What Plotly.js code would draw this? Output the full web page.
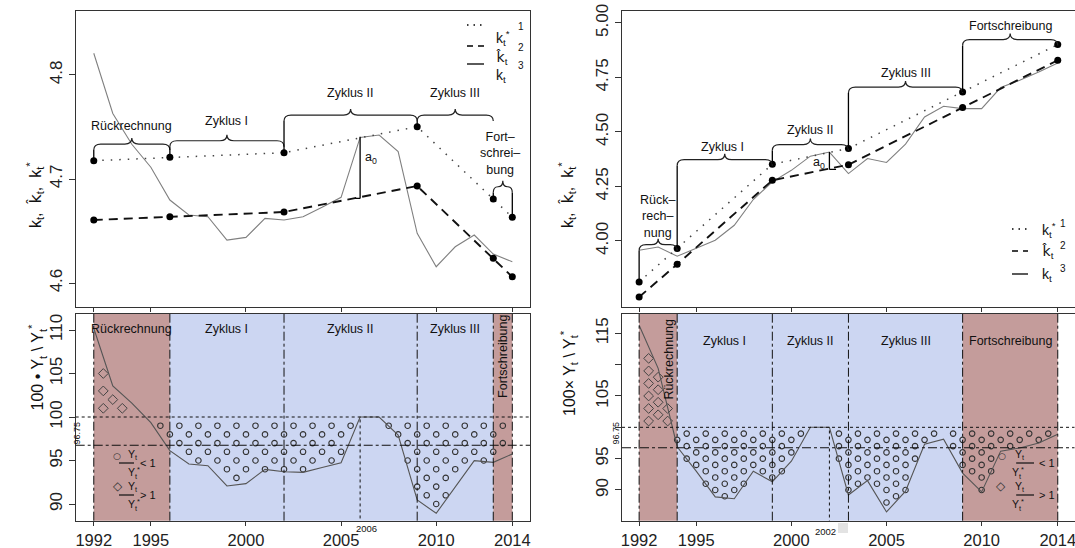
<!DOCTYPE html>
<html><head><meta charset="utf-8">
<script src="https://cdn.plot.ly/plotly-3.0.1.min.js"></script>
<style>html,body{margin:0;padding:0;background:#fff}#chart{width:1075px;height:548px}</style>
</head><body><div id="chart"></div>
<script>
// ---------------- DATA ----------------
const years = [1992,1993,1994,1995,1996,1997,1998,1999,2000,2001,2002,2003,2004,2005,2006,2007,2008,2009,2010,2011,2012,2013,2014];
const xTickVals = [1992,1995,2000,2005,2010,2014];

// left panel (k_t, trend k*_t, k^_t, ratio)
const leftK = [4.8209,4.763,4.7334,4.7113,4.6798,4.6654,4.6638,4.6413,4.6439,4.6622,4.6606,4.6638,4.6728,4.6824,4.740,4.7423,4.7263,4.6478,4.6157,4.6349,4.6462,4.6279,4.6205];
const leftKnotYears = [1992,1996,2002,2009,2013,2014];
const leftKstar = [4.7176,4.7209,4.7253,4.7503,4.6808,4.6633];
const leftKhat  = [4.6606,4.6638,4.6683,4.6933,4.6238,4.6060];
const leftRatio = [110.2,103.56,101.6,99.35,96.13,94.6,94.4,92.07,92.34,93.98,93.7,93.64,94.2,94.75,100,100,97.93,90.46,88.93,92.0,94.98,94.79,95.75];
const leftCycleYears = [1992,1996,2002,2009,2013,2014];
const leftCycleNames = ['Rückrechnung','Zyklus I','Zyklus II','Zyklus III','Fortschreibung'];
const leftCycleKind  = ['edge','core','core','core','edge'];
const leftMarkYear = 2006;

// right panel
const rightK = [3.957,3.972,3.930,3.965,4.003,4.072,4.190,4.271,4.324,4.389,4.408,4.309,4.378,4.360,4.444,4.569,4.618,4.607,4.607,4.704,4.737,4.775,4.817];
const rightKnotYears = [1992,1994,1999,2003,2009,2014];
const rightKstar = [3.812,3.965,4.352,4.424,4.683,4.901];
const rightKhat  = [3.743,3.893,4.278,4.350,4.612,4.829];
const rightRatio = [116.3,109.4,96.9,93.0,88.9,88.6,93.0,91.3,94.6,100,100,89.2,91.5,86.5,89.8,97.3,98.1,92.7,89.7,96.2,96.7,97.5,98.9];
const rightCycleYears = [1992,1994,1999,2003,2009,2014];
const rightCycleNames = ['Rückrechnung','Zyklus I','Zyklus II','Zyklus III','Fortschreibung'];
const rightCycleKind  = ['edge','core','core','core','edge'];
const rightMarkYear = 2002;

const refLevel = 96.75;

// ---------------- HELPERS ----------------
const W=1075,H=548;
const PX=x=>x/W, PY=y=>1-y/H;
const FONT='Liberation Sans, Arial, sans-serif';
const BROWN='#c49c9b', BLUE='#ccd6f2', FRAME='#333';
const KHAT='<span style="font-family:DejaVu Sans">k̂</span>';

function interp(xs,ys,x){for(let i=0;i<xs.length-1;i++){if(x>=xs[i]&&x<=xs[i+1]){const t=(x-xs[i])/(xs[i+1]-xs[i]);return ys[i]+t*(ys[i+1]-ys[i]);}}return NaN;}
function pattern(xs,ys){
  const c={x:[],y:[]},d={x:[],y:[]};
  const x0=xs[0],x1=xs[xs.length-1];
  const lo=Math.floor(Math.min(...ys)),hi=Math.ceil(Math.max(...ys));
  for(let r=lo;r<=hi;r++){ if(r===100)continue;
    const off=(r%2!==0)?0.5:0;
    for(let x=x0+off;x<x1-1e-9;x+=1){ if(x<=x0+1e-9)continue;
      const v=interp(xs,ys,x);
      if(r<100&&r>v){c.x.push(x);c.y.push(r);}
      else if(r>100&&r<v){d.x.push(x);d.y.push(r);} } }
  return {c,d};
}
function brace(xa,ya,x0,x1,yl,sx,sy){
  const wpx=(x1-x0)/sx;
  const dwp=Math.min(7,wpx/4);
  const dx=dwp*sx, dy=6*sy, cy=6*sy, xm=(x0+x1)/2;
  return {type:'path',xref:xa,yref:ya,line:{color:'#222',width:1.2},
    path:`M ${x0},${yl-dy} Q ${x0},${yl} ${x0+dx},${yl} L ${xm-dx},${yl} Q ${xm},${yl} ${xm},${yl+cy} Q ${xm},${yl} ${xm+dx},${yl} L ${x1-dx},${yl} Q ${x1},${yl} ${x1},${yl-dy}`};
}
function vline(xa,ya,x,y0,y1,w){return {type:'line',xref:xa,yref:ya,x0:x,x1:x,y0:y0,y1:y1,line:{color:'#000',width:w||1.3}};}

const XR_L=[1991.05,2014.93], XR_R=[1991.1,2014.88];
const YR_TL=[4.577,4.8615], YR_BL=[88.08,111.84], YR_TR=[3.697,5.055], YR_BR=[85.1,118.08];
const SX_L=(XR_L[1]-XR_L[0])/(530-75.7), SX_R=(XR_R[1]-XR_R[0])/(1074.5-622);
const SY_TL=(YR_TL[1]-YR_TL[0])/296, SY_TR=(YR_TR[1]-YR_TR[0])/296;

function xax(dom,range,labels,anchor){return {domain:dom,range:range,anchor:anchor,tickmode:'array',tickvals:xTickVals,ticktext:xTickVals.map(String),showticklabels:labels,ticklabeloverflow:'allow',ticks:'outside',ticklen:4,tickcolor:FRAME,showline:true,mirror:true,linecolor:FRAME,linewidth:1,zeroline:false,showgrid:false,tickfont:{family:FONT,size:16.5,color:'#222'}};}
function yax(dom,range,vals,texts,anchor){return {domain:dom,range:range,anchor:anchor,tickmode:'array',tickvals:vals,ticktext:texts,tickangle:-90,ticks:'outside',ticklen:6,tickcolor:FRAME,showline:true,mirror:true,linecolor:FRAME,linewidth:1,zeroline:false,showgrid:false,tickfont:{family:FONT,size:17,color:'#222'}};}

const DL=[PX(75.7),PX(530)], DR=[PX(622),PX(1074.5)], DT=[PY(307),PY(11)], DB=[PY(520.7),PY(314)];

const traces=[];
const shapes=[];
const ann=[];
function A(o){ann.push(Object.assign({showarrow:false,font:{family:FONT,size:12.5,color:'#111'}},o));}

// ---------- top panels ----------
function topPanel(xa,ya,k,knots,kstar,khat){
  traces.push({x:years,y:k,xaxis:xa,yaxis:ya,mode:'lines',line:{color:'#808080',width:1.1},hoverinfo:'skip'});
  traces.push({x:knots,y:kstar,xaxis:xa,yaxis:ya,mode:'lines',line:{color:'#444',width:1.5,dash:'1.5px,7px'},hoverinfo:'skip'});
  traces.push({x:knots,y:kstar,xaxis:xa,yaxis:ya,mode:'markers',marker:{color:'#000',size:7},hoverinfo:'skip'});
  traces.push({x:knots,y:khat,xaxis:xa,yaxis:ya,mode:'lines+markers',line:{color:'#111',width:1.9,dash:'9px,6px'},marker:{color:'#000',size:7},hoverinfo:'skip'});
}
topPanel('x','y',leftK,leftKnotYears,leftKstar,leftKhat);
topPanel('x3','y3',rightK,rightKnotYears,rightKstar,rightKhat);

// left top braces & labels
const dyL=6*SY_TL, dyR=6*SY_TR;
[[1992,1996,4.7336],[1996,2002,4.7368],[2002,2009,4.7615],[2009,2013,4.7615],[2013,2014,4.6926]].forEach(b=>shapes.push(brace('x','y',b[0],b[1],b[2],SX_L,SY_TL)));
shapes.push(vline('x','y',1992,leftKstar[0],4.7336-dyL));
shapes.push(vline('x','y',1996,leftKstar[1],4.7368-dyL));
shapes.push(vline('x','y',2002,leftKstar[2],4.7615-dyL));
shapes.push(vline('x','y',2009,leftKstar[3],4.7615-dyL));
shapes.push(vline('x','y',2013,leftKstar[4],4.6926-dyL));
shapes.push(vline('x','y',2014,leftKstar[5],4.6926-dyL));
// a0 left
shapes.push(vline('x','y',2006,4.7406,4.6814));
shapes.push({type:'line',xref:'x',yref:'y',x0:2005.75,x1:2006,y0:4.6814,y1:4.6814,line:{color:'#000',width:1.3}});
A({xref:'x',yref:'y',x:1994,y:4.751,text:'Rückrechnung'});
A({xref:'x',yref:'y',x:1999,y:4.756,text:'Zyklus I'});
A({xref:'x',yref:'y',x:2005.5,y:4.7824,text:'Zyklus II'});
A({xref:'x',yref:'y',x:2011,y:4.7824,text:'Zyklus III'});
A({xref:'x',yref:'y',x:2013.35,y:4.7247,text:'Fort–<br>schrei–<br>bung'});
A({xref:'x',yref:'y',x:2006.15,y:4.7199,xanchor:'left',text:'a<sub>0</sub>'});

// right top braces & labels
[[1992,1994,3.983],[1994,1999,4.373],[1999,2003,4.442],[2003,2009,4.706],[2009,2014,4.924]].forEach(b=>shapes.push(brace('x3','y3',b[0],b[1],b[2],SX_R,SY_TR)));
shapes.push(vline('x3','y3',1992,rightKstar[0],3.983-dyR));
shapes.push(vline('x3','y3',1994,rightKstar[1],4.373-dyR));
shapes.push(vline('x3','y3',1999,rightKstar[2],4.442-dyR));
shapes.push(vline('x3','y3',2003,rightKstar[3],4.706-dyR));
shapes.push(vline('x3','y3',2009,rightKstar[4],4.924-dyR));
shapes.push(vline('x3','y3',2002,4.408,4.328));
shapes.push({type:'line',xref:'x3',yref:'y3',x0:2002,x1:2002.35,y0:4.328,y1:4.328,line:{color:'#000',width:1.3}});
A({xref:'x3',yref:'y3',x:1992.95,y:4.113,text:'Rück–<br>rech–<br>nung'});
A({xref:'x3',yref:'y3',x:1996.4,y:4.431,text:'Zyklus I'});
A({xref:'x3',yref:'y3',x:2001,y:4.508,text:'Zyklus II'});
A({xref:'x3',yref:'y3',x:2006,y:4.771,text:'Zyklus III'});
A({xref:'x3',yref:'y3',x:2011.5,y:4.985,text:'Fortschreibung'});
A({xref:'x3',yref:'y3',x:2001.45,y:4.358,text:'a<sub>0</sub>'});

// legends for top panels
function topLegend(x0,x1,tx,nx,ys){
  const dashes=['1.5px,5px','6px,5px','solid'];
  const labels=['k<sub>t</sub><sup>*</sup>',KHAT+'<sub>t</sub>','k<sub>t</sub>'];
  ys.forEach((y,i)=>{
    shapes.push({type:'line',xref:'paper',yref:'paper',x0:PX(x0),x1:PX(x1),y0:PY(y),y1:PY(y),line:{color:'#000',width:i==2?1.3:1.6,dash:dashes[i]}});
    A({xref:'paper',yref:'paper',x:PX(tx),y:PY(y+1),xanchor:'left',text:labels[i],font:{family:FONT,size:14,color:'#111'}});
    A({xref:'paper',yref:'paper',x:PX(nx),y:PY(y-6),xanchor:'left',text:String(i+1),font:{family:FONT,size:10,color:'#111'}});
  });
}
topLegend(467,484,494,516,[25,46,64]);
topLegend(1012,1028,1040,1058,[229,251,274]);

// ---------- bottom panels ----------
function bottomPanel(xa,ya,ratio,cyc,kinds,names,markYear,rotIdx,rotX,labelY,rotY){
  const dom=ya+' domain';
  for(let i=0;i<kinds.length;i++){
    shapes.push({type:'rect',xref:xa,yref:dom,x0:cyc[i],x1:cyc[i+1],y0:0,y1:1,fillcolor:kinds[i]=='edge'?BROWN:BLUE,line:{width:0},layer:'below'});
  }
  cyc.forEach(c=>shapes.push({type:'line',xref:xa,yref:dom,x0:c,x1:c,y0:0,y1:1,line:{color:'#111',width:1,dash:'dashdot'}}));
  shapes.push({type:'line',xref:xa,yref:ya,x0:markYear,x1:markYear,y0:-1000,y1:100,line:{color:'#111',width:1,dash:'dot'}});
  shapes.push({type:'line',xref:xa+' domain',yref:ya,x0:0,x1:1,y0:100,y1:100,line:{color:'#111',width:1,dash:'dot'}});
  shapes.push({type:'line',xref:xa+' domain',yref:ya,x0:0,x1:1,y0:refLevel,y1:refLevel,line:{color:'#111',width:1.1,dash:'dashdot'}});
  const p=pattern(years,ratio);
  traces.push({x:p.c.x,y:p.c.y,xaxis:xa,yaxis:ya,mode:'markers',marker:{symbol:'circle-open',size:5.5,color:'#333',line:{width:1.1}},hoverinfo:'skip'});
  traces.push({x:p.d.x,y:p.d.y,xaxis:xa,yaxis:ya,mode:'markers',marker:{symbol:'diamond-open',size:7.5,color:'#444',line:{width:1}},hoverinfo:'skip'});
  traces.push({x:years,y:ratio,xaxis:xa,yaxis:ya,mode:'lines',line:{color:'#555',width:1.1},hoverinfo:'skip'});
  names.forEach((n,i)=>{
    const xm=(cyc[i]+cyc[i+1])/2;
    if(i===rotIdx) A({xref:xa,yref:ya,x:rotX,y:rotY,text:n,textangle:-90,font:{family:FONT,size:12.5,color:'#111'}});
    else A({xref:xa,yref:ya,x:xm,y:labelY,text:n,font:{family:FONT,size:12.5,color:'#111'}});
  });
}
bottomPanel('x2','y2',leftRatio,leftCycleYears,leftCycleKind,leftCycleNames,leftMarkYear,4,2013.5,110.1,107.0);
bottomPanel('x4','y4',rightRatio,rightCycleYears,rightCycleKind,rightCycleNames,rightMarkYear,0,1993.55,113.85,110.9);

// mark-year small labels
A({xref:'x2',yref:'paper',x:leftMarkYear+0.35,y:PY(528),yanchor:'middle',text:'2006',font:{family:FONT,size:9.5,color:'#111'}});
A({xref:'x4',yref:'paper',x:rightMarkYear-0.2,y:PY(531),yanchor:'middle',text:'2002',font:{family:FONT,size:9.5,color:'#111'}});
shapes.push({type:'rect',xref:'paper',yref:'paper',x0:PX(838),x1:PX(848),y0:PY(533),y1:PY(523),fillcolor:'#e3e3e3',line:{width:0}});

// 96.75 labels
A({xref:'paper',yref:'paper',x:PX(69),y:PY(447),text:'96.75',textangle:-90,font:{family:FONT,size:9,color:'#111'}});
A({xref:'paper',yref:'paper',x:PX(615),y:PY(447),text:'96.75',textangle:-90,font:{family:FONT,size:9,color:'#111'}});

// bottom legends (fractions)
function fracLegend(sx,sy,fx0,fx1,tx,sym,rel){
  A({xref:'paper',yref:'paper',x:PX(sx),y:PY(sy),text:sym,font:{family:'DejaVu Sans',size:sym=='○'?9:12,color:'#333'}});
  A({xref:'paper',yref:'paper',x:PX((fx0+fx1)/2),y:PY(sy-0.5),yanchor:'bottom',borderpad:0,text:'Y<sub>t</sub>',font:{family:FONT,size:10.5,color:'#111'}});
  A({xref:'paper',yref:'paper',x:PX((fx0+fx1)/2),y:PY(sy+0.5),yanchor:'top',borderpad:0,text:'Y<sub>t</sub><sup>*</sup>',font:{family:FONT,size:10.5,color:'#111'}});
  shapes.push({type:'line',xref:'paper',yref:'paper',x0:PX(fx0),x1:PX(fx1),y0:PY(sy),y1:PY(sy),line:{color:'#111',width:1.2}});
  A({xref:'paper',yref:'paper',x:PX(tx),y:PY(sy),xanchor:'left',yanchor:'middle',borderpad:0,text:rel,font:{family:FONT,size:11,color:'#111'}});
}
fracLegend(111,463,119,134,139,'○','&lt; 1');
fracLegend(111,495,119,134,139,'◇','&gt; 1');
fracLegend(1008,463,1016,1034,1038,'○','&lt; 1');
fracLegend(1008,495,1016,1034,1038,'◇','&gt; 1');

// y-axis titles
A({xref:'paper',yref:'paper',x:PX(22),y:PY(160),text:'k<sub>t</sub>,  '+KHAT+'<sub>t</sub>,  k<sub>t</sub><sup>*</sup>',textangle:-90,font:{family:FONT,size:16,color:'#111'}});
A({xref:'paper',yref:'paper',x:PX(567),y:PY(160),text:'k<sub>t</sub>,  '+KHAT+'<sub>t</sub>,  k<sub>t</sub><sup>*</sup>',textangle:-90,font:{family:FONT,size:16,color:'#111'}});
A({xref:'paper',yref:'paper',x:PX(24),y:PY(413),text:'100 • Y<sub>t</sub> \\ Y<sub>t</sub><sup>*</sup>',textangle:-90,font:{family:FONT,size:16,color:'#111'}});
A({xref:'paper',yref:'paper',x:PX(569),y:PY(418),text:'100× Y<sub>t</sub> \\ Y<sub>t</sub><sup>*</sup>',textangle:-90,font:{family:FONT,size:16,color:'#111'}});

const layout={
  width:W,height:H,margin:{l:0,r:0,t:0,b:0},paper_bgcolor:'#fff',plot_bgcolor:'rgba(0,0,0,0)',showlegend:false,
  font:{family:FONT},
  xaxis:xax(DL,XR_L,false,'y'), yaxis:yax(DT,YR_TL,[4.6,4.7,4.8],['4.6','4.7','4.8'],'x'),
  xaxis2:xax(DL,XR_L,true,'y2'), yaxis2:yax(DB,YR_BL,[90,95,100,105,110],['90','95','100','105','110'],'x2'),
  xaxis3:xax(DR,XR_R,false,'y3'), yaxis3:yax(DT,YR_TR,[4.0,4.25,4.5,4.75,5.0],['4.00','4.25','4.50','4.75','5.00'],'x3'),
  xaxis4:xax(DR,XR_R,true,'y4'), yaxis4:yax(DB,YR_BR,[90,95,100,105,110,115],['90','95','','105','','115'],'x4'),
  shapes:shapes, annotations:ann
};
Plotly.newPlot('chart',traces,layout,{staticPlot:true,displayModeBar:false});
</script></body></html>
